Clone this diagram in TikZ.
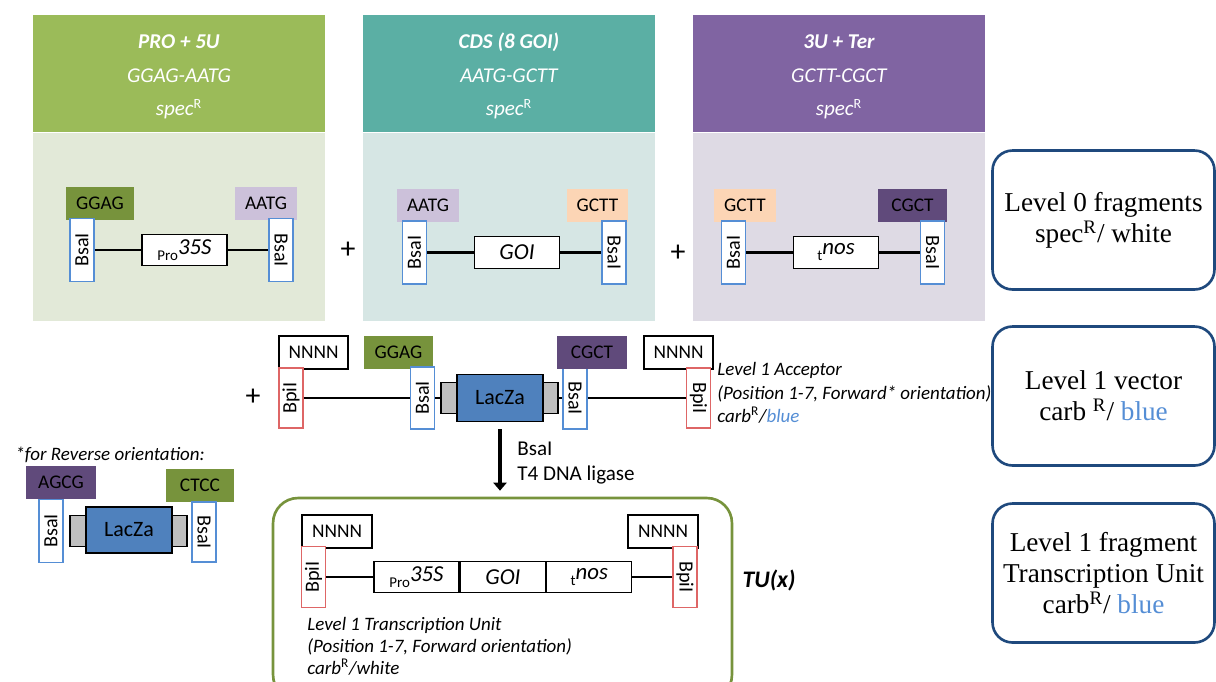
\documentclass[tikz,border=0pt]{standalone}
\usepackage{fontspec}
\setmainfont{Carlito}
\newfontfamily\timesfont{Liberation Serif}
\usetikzlibrary{shapes,arrows.meta,positioning,calc}
\definecolor{hdgreen}{RGB}{155,187,89}
\definecolor{bdgreen}{RGB}{226,233,216}
\definecolor{hdteal}{RGB}{91,175,164}
\definecolor{bdteal}{RGB}{214,230,228}
\definecolor{hdpurple}{RGB}{128,100,162}
\definecolor{bdpurple}{RGB}{222,218,228}
\definecolor{ohgreen}{RGB}{119,147,60}
\definecolor{ohlilac}{RGB}{204,193,218}
\definecolor{ohpeach}{RGB}{252,213,181}
\definecolor{ohplum}{RGB}{96,74,123}
\definecolor{bsablue}{RGB}{85,142,213}
\definecolor{bpired}{RGB}{222,102,102}
\definecolor{lacblue}{RGB}{79,129,189}
\definecolor{lacgray}{RGB}{191,191,191}
\definecolor{lvlblue}{RGB}{31,73,125}
\colorlet{tugreen}{ohgreen}
\colorlet{txtblue}{bsablue}
\newcommand{\lowtag}[1]{\raisebox{-0.55ex}{\fontsize{8.5}{9}\selectfont\upshape #1}}
\newcommand{\resR}{\textsuperscript{\upshape R}}
\tikzset{
  head/.style={minimum width=5.84cm,minimum height=2.34cm,inner sep=0,align=center,
               text=white,font=\fontsize{12}{19}\selectfont\itshape},
  body/.style={minimum width=5.84cm,minimum height=3.76cm,inner sep=0},
  ovh/.style={minimum width=1.38cm,minimum height=0.66cm,inner sep=0,
              font=\fontsize{11}{12}\selectfont},
  nbox/.style={ovh,draw,fill=white,line width=0.7pt},
  enz/.style={draw,fill=white,line width=0.8pt,minimum width=1.26cm,minimum height=0.48cm,
              inner sep=0,font=\fontsize{11.5}{12}\selectfont},
  bsa/.style={enz,draw=bsablue},
  bpi/.style={enz,draw=bpired,minimum width=1.2cm},
  partbox/.style={draw,fill=white,line width=0.8pt,minimum width=1.7cm,minimum height=0.63cm,
                  inner sep=0,font=\fontsize{13}{14}\selectfont},
  gbox/.style={draw,fill=lacgray,line width=0.8pt,minimum width=0.32cm,minimum height=0.62cm,inner sep=0},
  lacbox/.style={draw,fill=lacblue,line width=0.8pt,minimum width=1.72cm,minimum height=0.94cm,
                 inner sep=0,font=\fontsize{12.5}{14}\selectfont},
  lvlbox/.style={draw=lvlblue,line width=1.5pt,rounded corners=0.4cm,minimum width=4.44cm,
                 minimum height=2.78cm,align=center,font=\fontsize{15.5}{17.8}\timesfont},
  note/.style={align=left,inner sep=0,font=\fontsize{10.8}{13.4}\selectfont\itshape},
  dna/.style={line width=1.3pt},
  arr/.style={-{Triangle[length=1.6mm,width=2.6mm]},line width=2.2pt},
  plus/.style={font=\fontsize{17}{18}\selectfont},
}
\begin{document}
\begin{tikzpicture}[x=0.02cm,y=-0.02cm]
  \useasboundingbox (0,0) rectangle (1216,681);
  \clip (0,0) rectangle (1216,681);

  \node[head,fill=hdgreen] (h1) at (179,73.5) {\rule{0pt}{12pt}\textbf{PRO + 5U}\\GGAG-AATG\\spec\resR};
  \node[body,fill=bdgreen,below=0pt of h1] (b1) {};
  \node[head,fill=hdteal] (h2) at (509,73.5) {\rule{0pt}{12pt}\textbf{CDS (8 GOI)}\\AATG-GCTT\\spec\resR};
  \node[body,fill=bdteal,below=0pt of h2] (b2) {};
  \node[head,fill=hdpurple] (h3) at (839,73.5) {\rule{0pt}{12pt}\textbf{3U + Ter}\\GCTT-CGCT\\spec\resR};
  \node[body,fill=bdpurple,below=0pt of h3] (b3) {};

  \node[ovh,fill=ohgreen] (ggag1) at (100,203) {GGAG};
  \node[ovh,fill=ohlilac,minimum width=1.24cm] (aatg1) at (266,203) {AATG};
  \node[bsa,rotate=90] (bsaL1) at (82,250) {BsaI};
  \node[bsa,rotate=-90] (bsaR1) at (281,250) {BsaI};
  \node[partbox] (pro1) at (184.5,250) {\lowtag{Pro}\textit{35S}};
  \draw[dna] (bsaL1) -- (pro1) -- (bsaR1);
  \node[plus] (pl1) at (348,250) {+};

  \node[ovh,fill=ohlilac,minimum width=1.24cm] (aatg2) at (428,205) {AATG};
  \node[ovh,fill=ohpeach,minimum width=1.22cm] (gctt2) at (597.5,205) {GCTT};
  \node[bsa,rotate=90] (bsaL2) at (414.5,252.5) {BsaI};
  \node[bsa,rotate=-90] (bsaR2) at (614,252.5) {BsaI};
  \node[partbox] (goi1) at (517,252.5) {\textit{GOI}};
  \draw[dna] (bsaL2) -- (goi1) -- (bsaR2);
  \node[plus] (pl2) at (678,253) {+};

  \node[ovh,fill=ohpeach,minimum width=1.24cm] (gctt3) at (745,205) {GCTT};
  \node[ovh,fill=ohplum] (cgct3) at (912.5,205) {CGCT};
  \node[bsa,rotate=90] (bsaL3) at (733.5,252.5) {BsaI};
  \node[bsa,rotate=-90] (bsaR3) at (932.5,252.5) {BsaI};
  \node[partbox] (nos1) at (836,252.5) {\lowtag{t}\textit{nos}};
  \draw[dna] (bsaL3) -- (nos1) -- (bsaR3);

  \node[lvlbox] (lv0) at (1103.5,220) {Level 0 fragments\\spec\textsuperscript{R}/ white};
  \node[lvlbox] (lv1) at (1103.5,396) {Level 1 vector\\carb \textsuperscript{R}/ \textcolor{txtblue}{blue}};
  \node[lvlbox] (lv2) at (1103.5,573) {Level 1 fragment\\Transcription Unit\\carb\textsuperscript{R}/ \textcolor{txtblue}{blue}};

  \node[plus] (pl3) at (253,397) {+};
  \node[nbox] (nnL) at (313.5,352.5) {NNNN};
  \node[bpi,rotate=90] (bpiL) at (291,398) {BpiI};
  \node[ovh,fill=ohgreen] (ggagM) at (398.5,352) {GGAG};
  \node[bsa,rotate=90,minimum width=1.24cm] (bsaLM) at (422.5,398) {BsaI};
  \node[gbox] (grayL) at (449,398) {};
  \node[lacbox] (lacM) at (500,398) {LacZa};
  \node[gbox,minimum width=0.3cm] (grayR) at (550.5,398) {};
  \node[bsa,rotate=-90,minimum width=1.24cm] (bsaRM) at (575,398) {BsaI};
  \node[ovh,fill=ohplum,minimum width=1.4cm] (cgctM) at (592,352) {CGCT};
  \node[nbox] (nnR) at (678.5,352.5) {NNNN};
  \node[bpi,rotate=-90] (bpiR) at (698.5,398) {BpiI};
  \draw[dna] (bpiL) -- (bsaLM) -- (grayL);
  \draw[dna] (grayR) -- (bsaRM) -- (bpiR);
  \node[note,anchor=west] (acc) at (717,393)
    {Level 1 Acceptor\\(Position 1-7, Forward* orientation)\\carb\resR/\textcolor{txtblue}{blue}};

  \node[note,anchor=west] (rev) at (15,455) {*for Reverse orientation:};
  \node[ovh,fill=ohplum,minimum width=1.4cm] (agcg) at (61,482.5) {AGCG};
  \node[ovh,fill=ohgreen,minimum width=1.36cm] (ctcc) at (200,485) {CTCC};
  \node[bsa,rotate=90] (bsaLR) at (51,531) {BsaI};
  \node[bsa,rotate=-90,minimum width=1.2cm] (bsaRR) at (204,532) {BsaI};
  \node[gbox] (grayLR) at (78,531) {};
  \node[lacbox,minimum height=0.92cm] (lacR) at (129,530) {LacZa};
  \node[gbox,minimum width=0.3cm] (grayRR) at (179.5,531) {};

  \node[draw=tugreen,line width=1.5pt,rounded corners=0.5cm,minimum width=9.18cm,
        minimum height=4.04cm] (tu) at (502.5,599) {};
  \draw[arr] (lacM.south) ++(0,7) coordinate (astart) -- (astart |- tu.north)
    [shorten >=0.12cm];
  \node[note,anchor=west,font=\fontsize{12}{14.2}\selectfont] (lig) at (517,463)
    {BsaI\\T4 DNA ligase};

  \node[nbox,minimum width=1.4cm] (nnLT) at (337,531.5) {NNNN};
  \node[bpi,rotate=90,minimum width=1.22cm] (bpiLT) at (313.5,577) {BpiI};
  \node[nbox,minimum width=1.4cm] (nnRT) at (663,531.5) {NNNN};
  \node[bpi,rotate=-90,minimum width=1.22cm] (bpiRT) at (685,577) {BpiI};
  \node[partbox] (proT) at (416.5,577) {\lowtag{Pro}\textit{35S}};
  \node[partbox,right=0pt of proT] (goiT) {\textit{GOI}};
  \node[partbox,right=0pt of goiT] (nosT) {\lowtag{t}\textit{nos}};
  \draw[dna] (bpiLT) -- (proT);
  \draw[dna] (nosT) -- (bpiRT);
  \node[note,anchor=west,font=\fontsize{10.8}{12.6}\selectfont\itshape] (tutext) at (307,646)
    {Level 1 Transcription Unit\\(Position 1-7, Forward orientation)\\carb\resR/white};
  \node[font=\fontsize{13.5}{15}\selectfont\bfseries\itshape] (tux) at (769,580) {TU(x)};
\end{tikzpicture}
\end{document}
